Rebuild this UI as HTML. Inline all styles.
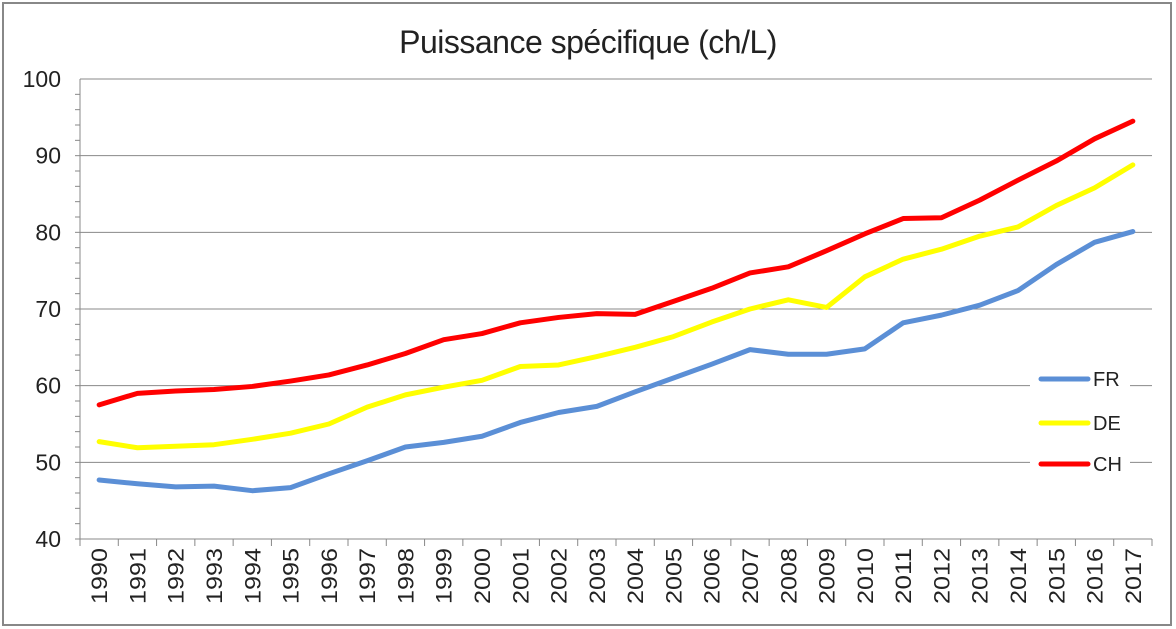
<!DOCTYPE html>
<html><head><meta charset="utf-8"><style>
body{margin:0;background:#fff}
svg{display:block}
text{font-family:"Liberation Sans",sans-serif;fill:#222}
</style></head><body>
<svg id="c" width="1176" height="629" xmlns="http://www.w3.org/2000/svg">
<rect x="3" y="3" width="1168" height="622" fill="#fff" stroke="#888" stroke-width="2"/>
<text x="588" y="53" font-size="32" text-anchor="middle" letter-spacing="-0.5">Puissance spécifique (ch/L)</text>
<g id="g"></g>
</svg>
<script>
const g=document.getElementById('g');
const L=80,R=1152,T=79,B=539;
const Y=v=>B-(v-40)*(B-T)/60;
const cw=(R-L)/28;
const X=i=>L+cw*(i+0.5);
let s='';
for(let v=50;v<=100;v+=10){s+=`<line x1="${L}" x2="${R}" y1="${Y(v)}" y2="${Y(v)}" stroke="#888" stroke-width="1"/>`;}
for(let v=40;v<=100;v+=10){s+=`<text x="61" y="${Y(v)+8}" font-size="23" text-anchor="end">${v}</text>`;}
for(let v=40;v<100;v+=2){s+=`<line x1="${L-5}" x2="${L}" y1="${Y(v)}" y2="${Y(v)}" stroke="#888"/>`;}
s+=`<line x1="${L}" x2="${L}" y1="${T}" y2="${B}" stroke="#888"/><line x1="${L}" x2="${R}" y1="${B}" y2="${B}" stroke="#888"/>`;
for(let i=0;i<=28;i++){const x=L+cw*i;s+=`<line x1="${x}" x2="${x}" y1="${B}" y2="${B+7}" stroke="#888"/>`;}
for(let i=0;i<28;i++){const x=X(i)+8;s+=`<text transform="translate(${x},${B+9}) rotate(-90)" font-size="22" text-anchor="end" textLength="56" lengthAdjust="spacingAndGlyphs">${1990+i}</text>`;}
const FR=[47.7,47.2,46.8,46.9,46.3,46.7,48.5,50.2,52,52.6,53.4,55.2,56.5,57.3,59.2,61,62.8,64.7,64.1,64.1,64.8,68.2,69.2,70.5,72.4,75.8,78.7,80.1];
const DE=[52.7,51.9,52.1,52.3,53,53.8,55,57.2,58.8,59.8,60.7,62.5,62.7,63.8,65,66.4,68.3,70,71.2,70.2,74.2,76.5,77.8,79.5,80.7,83.5,85.8,88.8];
const CH=[57.5,59,59.3,59.5,59.9,60.6,61.4,62.7,64.2,66,66.8,68.2,68.9,69.4,69.3,71,72.7,74.7,75.5,77.6,79.8,81.8,81.9,84.2,86.8,89.3,92.2,94.5];
s+=`<rect x="1030" y="360" width="100" height="120" fill="#fff"/>`;
const ser=[[FR,'#5b8fd6','FR',379],[DE,'#ffff00','DE',423],[CH,'#ff0000','CH',464]];
for(const [d,c] of ser){s+=`<polyline fill="none" stroke="${c}" stroke-width="5" stroke-linejoin="round" stroke-linecap="round" points="${d.map((v,i)=>X(i)+','+Y(v)).join(' ')}"/>`;}
for(const [d,c,n,y] of ser){s+=`<line x1="1041" x2="1088" y1="${y}" y2="${y}" stroke="${c}" stroke-width="5" stroke-linecap="round"/><text x="1093" y="${y+7}" font-size="20">${n}</text>`;}
g.innerHTML=s;
</script>
</body></html>
